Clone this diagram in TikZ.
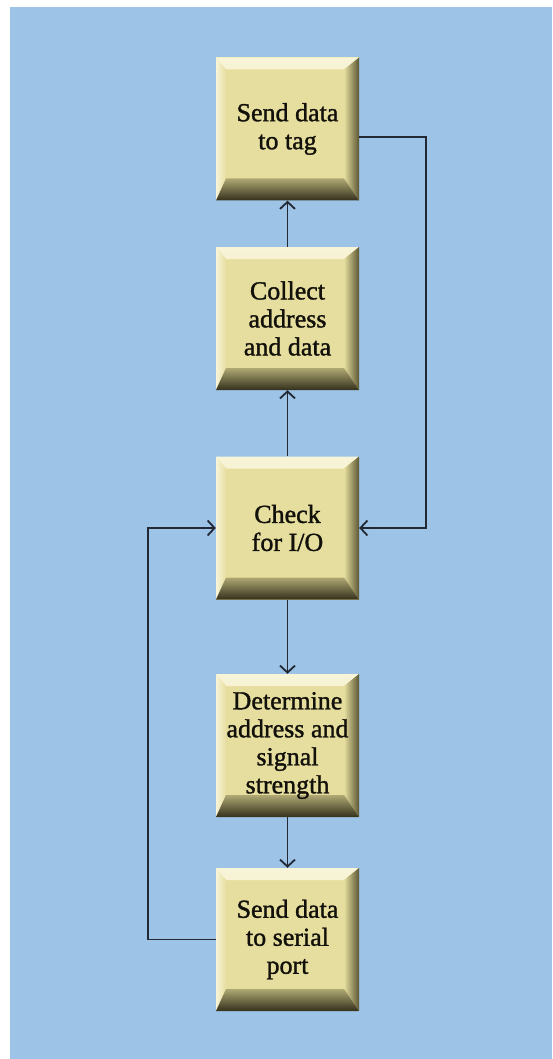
\documentclass[tikz,border=0pt]{standalone}
\usepackage{fontspec}
\setmainfont{Liberation Serif}[FakeBold=1.3]
\usepackage{tikz}
\usetikzlibrary{arrows.meta, positioning, calc}
\definecolor{bgblue}{RGB}{157,195,230}
\definecolor{boxfill}{RGB}{230,222,158}
\definecolor{bevlight}{RGB}{248,244,216}
\definecolor{bevdark}{RGB}{52,48,28}
\definecolor{bevmid}{RGB}{92,87,52}
\definecolor{linecol}{RGB}{34,40,52}
\definecolor{txtcol}{RGB}{18,16,10}

\begin{document}
\begin{tikzpicture}[x=1pt, y=1pt,
    bevelbox/.style={rectangle, minimum width=143pt, minimum height=143pt,
                  inner sep=0pt, text centered, align=center, fill=boxfill,
                  text=txtcol, font=\fontsize{26}{28}\selectfont,
                  path picture={
                    \shade[top color=bevlight, bottom color=boxfill]
                      (path picture bounding box.north west)
                      -- (path picture bounding box.north east)
                      -- ([shift={(-15pt,-12pt)}]path picture bounding box.north east)
                      -- ([shift={(10pt,-12pt)}]path picture bounding box.north west) -- cycle;
                    \shade[left color=bevlight, right color=boxfill]
                      (path picture bounding box.north west)
                      -- ([shift={(10pt,-12pt)}]path picture bounding box.north west)
                      -- ([shift={(10pt,22pt)}]path picture bounding box.south west)
                      -- (path picture bounding box.south west) -- cycle;
                    \shade[left color=boxfill, right color=bevmid]
                      (path picture bounding box.north east)
                      -- (path picture bounding box.south east)
                      -- ([shift={(-15pt,22pt)}]path picture bounding box.south east)
                      -- ([shift={(-15pt,-12pt)}]path picture bounding box.north east) -- cycle;
                    \shade[top color=boxfill!60!bevmid, bottom color=bevdark]
                      (path picture bounding box.south west)
                      -- (path picture bounding box.south east)
                      -- ([shift={(-15pt,22pt)}]path picture bounding box.south east)
                      -- ([shift={(10pt,22pt)}]path picture bounding box.south west) -- cycle;
                  }},
    flow/.style={draw=linecol, line width=1.8pt,
                 -{Straight Barb[length=7pt, width=15pt]}}]

% page and backdrop
\useasboundingbox (0,0) rectangle (552,-1059);
\fill[white] (0,0) rectangle (552,-1059);
\fill[bgblue] (10,-7) rectangle (552,-1059);

\node (tag)       [bevelbox] at (287.5,-129)   {Send data\\to tag};
\node (collect)   [bevelbox] at (287.5,-318.5) {Collect\\address\\and data};
\node (check)     [bevelbox] at (287.5,-528)   {Check\\for I/O};
\node (determine) [bevelbox] at (287.5,-745.5) {Determine\\address and\\signal\\strength};
\node (serial)    [bevelbox] at (287.5,-939.5) {Send data\\to serial\\port};

\draw [flow] (check) -- (collect);
\draw [flow] (collect) -- (tag);
\draw [flow] (check) -- (determine);
\draw [flow] (determine) -- (serial);
\draw [flow] ([yshift=-8pt]tag.east) -- ++(67,0) |- (check.east);
\draw [flow] (serial.west) -- ++(-68,0) |- (check.west);
\end{tikzpicture}
\end{document}
